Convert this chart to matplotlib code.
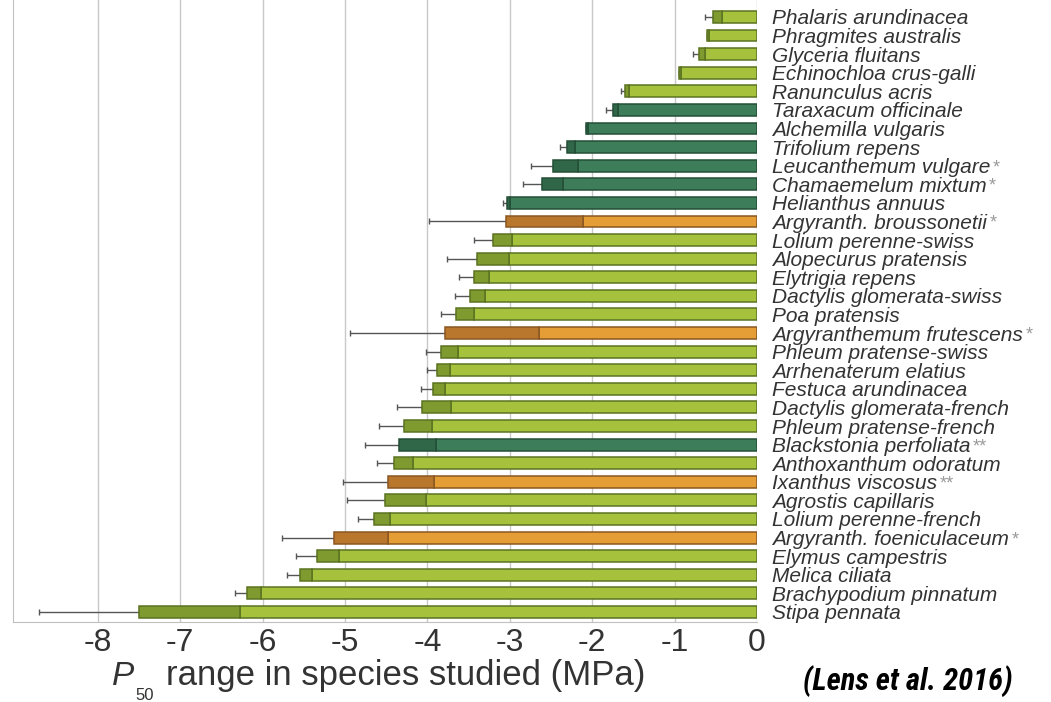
import numpy as np
import matplotlib.pyplot as plt
from matplotlib import font_manager

# species, top to bottom
species = [
    "Phalaris arundinacea", "Phragmites australis", "Glyceria fluitans",
    "Echinochloa crus-galli", "Ranunculus acris", "Taraxacum officinale",
    "Alchemilla vulgaris", "Trifolium repens", "Leucanthemum vulgare",
    "Chamaemelum mixtum", "Helianthus annuus", "Argyranth. broussonetii",
    "Lolium perenne-swiss", "Alopecurus pratensis", "Elytrigia repens",
    "Dactylis glomerata-swiss", "Poa pratensis", "Argyranthemum frutescens",
    "Phleum pratense-swiss", "Arrhenaterum elatius", "Festuca arundinacea",
    "Dactylis glomerata-french", "Phleum pratense-french", "Blackstonia perfoliata",
    "Anthoxanthum odoratum", "Ixanthus viscosus", "Agrostis capillaris",
    "Lolium perenne-french", "Argyranth. foeniculaceum", "Elymus campestris",
    "Melica ciliata", "Brachypodium pinnatum", "Stipa pennata",
]
marks = ["", "", "", "", "", "", "", "", "*", "*", "", "*", "", "", "", "", "", "*",
         "", "", "", "", "", "**", "", "**", "", "", "*", "", "", "", ""]
# g = grass, h = herb, i = island species
group = ["g", "g", "g", "g", "g", "h", "h", "h", "h", "h", "h", "i", "g", "g", "g",
         "g", "g", "i", "g", "g", "g", "g", "g", "h", "g", "i", "g", "g", "i", "g",
         "g", "g", "g"]

# P50 values (MPa)
p50_high = [-0.43, -0.58, -0.63, -0.92, -1.55, -1.69, -2.05, -2.21, -2.17, -2.35,
            -3.00, -2.11, -2.97, -3.01, -3.25, -3.30, -3.44, -2.65, -3.63, -3.73,
            -3.79, -3.72, -3.95, -3.90, -4.17, -3.92, -4.02, -4.46, -4.48, -5.07,
            -5.40, -6.02, -6.28]
p50_low = [-0.53, -0.61, -0.71, -0.95, -1.60, -1.75, -2.08, -2.30, -2.47, -2.61,
           -3.03, -3.05, -3.21, -3.40, -3.44, -3.48, -3.65, -3.79, -3.83, -3.88,
           -3.93, -4.06, -4.28, -4.34, -4.40, -4.48, -4.51, -4.65, -5.13, -5.34,
           -5.55, -6.19, -7.50]
p50_err = [-0.63, -0.61, -0.78, -0.95, -1.65, -1.83, -2.08, -2.39, -2.74, -2.84,
           -3.08, -3.98, -3.43, -3.76, -3.62, -3.67, -3.84, -4.94, -4.02, -4.01,
           -4.08, -4.37, -4.59, -4.76, -4.61, -5.03, -4.98, -4.84, -5.77, -5.60,
           -5.71, -6.34, -8.71]

colors = {
    "g": ("#a6c23c", "#7f9a2e", "#5b7322"),
    "h": ("#3e7d5a", "#2f6748", "#234f37"),
    "i": ("#e59d35", "#b9772d", "#8a5722"),
}

# a condensed face for the citation, if there is one
names = {f.name for f in font_manager.fontManager.ttflist}
cite_font, cite_size = "Liberation Sans", 17
for fam in ["Liberation Sans Narrow", "DejaVu Sans Condensed", "Roboto Condensed",
            "Open Sans Condensed"]:
    if fam in names:
        cite_font, cite_size = fam, 22
        break

plt.rcParams['font.family'] = ['Liberation Sans', 'DejaVu Sans']

fig = plt.figure(figsize=(10.51, 7.02), dpi=100)
ax = fig.add_axes([13 / 1051, 80 / 702, 744 / 1051, 622 / 702])

y = np.arange(len(species))
hi = np.array(p50_high)
lo = np.array(p50_low)
er = np.array(p50_err)

light = [colors[g][0] for g in group]
dark = [colors[g][1] for g in group]
edge = [colors[g][2] for g in group]

ax.barh(y, hi, height=0.64, color=light, edgecolor=edge, linewidth=1.1, zorder=3)
ax.barh(y, lo - hi, left=hi, height=0.64, color=dark, edgecolor=edge, linewidth=1.1, zorder=3)
ax.errorbar(lo, y, xerr=[lo - er, np.zeros_like(lo)], fmt='none', ecolor='#555555',
            elinewidth=1.0, capsize=2.5, capthick=1.0, zorder=2)

for i, name in enumerate(species):
    t = ax.annotate(name, xy=(0, i), xytext=(11, 0), textcoords='offset points',
                    ha='left', va='center_baseline', fontsize=15, style='italic',
                    color='#333333', annotation_clip=False)
    if marks[i]:
        ax.annotate(marks[i], xy=(1, 0.5), xycoords=t, xytext=(1.5, 0),
                    textcoords='offset points', ha='left', va='center',
                    fontsize=13, color='#9a9a9a')

ax.set_xlim(-9.03, 0)
ax.set_ylim(32.54, -0.91)
ax.set_xticks(np.arange(-8, 1))
ax.set_xticklabels([str(v) for v in range(-8, 1)], fontsize=23, color='#333333')
ax.tick_params(axis='x', length=0, pad=4)
ax.set_yticks([])
ax.grid(axis='x', color='#c8c8c8', linewidth=1.0, zorder=0)
for s in ['top', 'right']:
    ax.spines[s].set_visible(False)
for s in ['left', 'bottom']:
    ax.spines[s].set_color('#c0c0c0')

# axis label with subscript
fig.text(112 / 1051, 1 - 685 / 702, "P", fontsize=24, style='italic', color='#333333',
         ha='left', va='baseline')
fig.text(135 / 1051, 1 - 700 / 702, "50", fontsize=12, color='#333333',
         ha='left', va='baseline')
fig.text(166 / 1051, 1 - 685 / 702, "range in species studied (MPa)", fontsize=25,
         color='#333333', ha='left', va='baseline')

fig.text(1013 / 1051, 1 - 690 / 702, "(Lens et al. 2016)", fontsize=cite_size,
         family=cite_font, weight='bold', style='italic', color='black',
         ha='right', va='baseline')

fig.savefig("out.png", dpi=100)
